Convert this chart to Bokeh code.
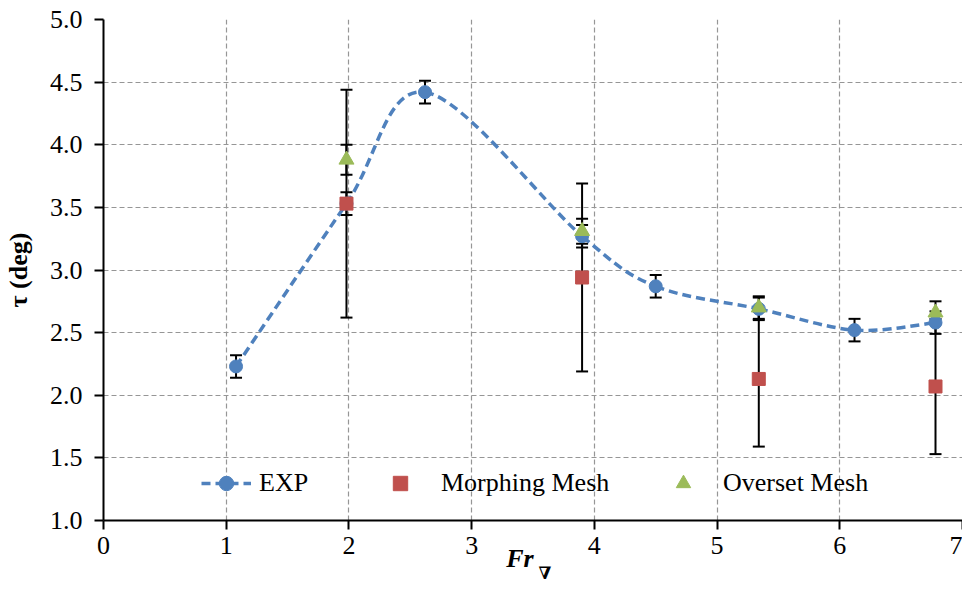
import numpy as np
from bokeh.plotting import figure
from bokeh.models import (Legend, LegendItem, Whisker, TeeHead, ColumnDataSource,
                          FixedTicker, Range1d, LinearAxis)
from bokeh.embed import file_html
from bokeh.resources import INLINE

# ---- data ----
exp_x = [1.08, 1.98, 2.62, 3.90, 4.50, 5.34, 6.12, 6.78]
exp_y = [2.23, 3.53, 4.42, 3.27, 2.87, 2.69, 2.52, 2.58]
exp_err = [0.09, 0.09, 0.09, 0.09, 0.09, 0.09, 0.09, 0.09]

morph_x = [1.98, 3.90, 5.34, 6.78]
morph_y = [3.53, 2.94, 2.13, 2.07]
morph_err = [0.91, 0.75, 0.54, 0.54]

over_x = [1.98, 3.90, 5.34, 6.78]
over_y = [3.88, 3.31, 2.70, 2.66]
over_err = [0.12, 0.10, 0.09, 0.09]

x_ticks = [0, 1, 2, 3, 4, 5, 6, 7]
x_tick_labels = ["0", "1", "2", "3", "4", "5", "6", "7"]
y_ticks = [1.0, 1.5, 2.0, 2.5, 3.0, 3.5, 4.0, 4.5, 5.0]
y_tick_labels = ["1.0", "1.5", "2.0", "2.5", "3.0", "3.5", "4.0", "4.5", "5.0"]

BLUE = "#4F81BD"
RED = "#C0504D"
GREEN = "#9BBB59"
FONT = "Liberation Serif"
NB = "\u00a0"

p = figure(width=962, height=585, x_range=Range1d(0, 7), y_range=Range1d(1, 5),
           output_backend="svg", toolbar_location=None,
           min_border_left=91, min_border_right=0, min_border_top=19, min_border_bottom=40)
p.outline_line_color = None
p.background_fill_color = "white"

# axes
for ax in (p.xaxis[0], p.yaxis[0]):
    ax.axis_line_color = "black"
    ax.axis_line_width = 2
    ax.major_tick_line_color = "black"
    ax.major_tick_line_width = 2
    ax.major_tick_out = 9
    ax.major_tick_in = 0
    ax.minor_tick_line_color = None
    ax.major_label_text_font = FONT
    ax.major_label_text_font_size = "26px"
    ax.major_label_text_color = "black"

p.xaxis.ticker = FixedTicker(ticks=x_ticks)
p.xaxis.major_label_overrides = {t: l for t, l in zip(x_ticks, x_tick_labels)}
p.yaxis.ticker = FixedTicker(ticks=y_ticks)
p.yaxis.major_label_overrides = {t: l for t, l in zip(y_ticks, y_tick_labels)}
p.xaxis.major_label_standoff = 7
p.yaxis.major_label_standoff = 12

p.yaxis.axis_label = "τ (deg)"
p.yaxis.axis_label_text_font = FONT
p.yaxis.axis_label_text_font_size = "26px"
p.yaxis.axis_label_text_font_style = "bold"
p.yaxis.axis_label_text_color = "black"
p.yaxis.axis_label_standoff = 14

# x title "Fr" on main axis, subscript nabla on a bare second axis below
p.xaxis.axis_label = "Fr" + NB * 4
p.xaxis.axis_label_text_font = FONT
p.xaxis.axis_label_text_font_size = "26px"
p.xaxis.axis_label_text_font_style = "bold italic"
p.xaxis.axis_label_text_color = "black"
p.xaxis.axis_label_standoff = -13

sub_axis = LinearAxis(ticker=FixedTicker(ticks=[]), axis_line_color=None,
                      major_tick_line_color=None, minor_tick_line_color=None,
                      major_tick_out=0, major_tick_in=0, major_label_standoff=0,
                      major_label_text_font_size="0px",
                      axis_label=NB * 4 + "∇", axis_label_text_font="DejaVu Serif",
                      axis_label_text_font_size="17px",
                      axis_label_text_font_style="bold italic",
                      axis_label_text_color="black", axis_label_standoff=-13)
p.add_layout(sub_axis, "below")

# grid
for g in (p.xgrid[0], p.ygrid[0]):
    g.grid_line_color = "#969696"
    g.grid_line_dash = "5 3"
    g.grid_line_width = 1.2
p.xgrid.ticker = FixedTicker(ticks=x_ticks)
p.ygrid.ticker = FixedTicker(ticks=y_ticks)

# smoothed EXP curve (Catmull-Rom Bezier through the data points)
ex = np.array(exp_x, dtype=float)
ey = np.array(exp_y, dtype=float)
pxs = np.concatenate([[ex[0]], ex, [ex[-1]]])
pys = np.concatenate([[ey[0]], ey, [ey[-1]]])
n = len(ex)
bx0, by0, bx1, by1, c0x, c0y, c1x, c1y = [], [], [], [], [], [], [], []
for i in range(n - 1):
    P0x, P1x, P2x, P3x = pxs[i], pxs[i + 1], pxs[i + 2], pxs[i + 3]
    P0y, P1y, P2y, P3y = pys[i], pys[i + 1], pys[i + 2], pys[i + 3]
    bx0.append(P1x); by0.append(P1y); bx1.append(P2x); by1.append(P2y)
    c0x.append(P1x + (P2x - P0x) / 6); c0y.append(P1y + (P2y - P0y) / 6)
    c1x.append(P2x - (P3x - P1x) / 6); c1y.append(P2y - (P3y - P1y) / 6)
p.bezier(x0=bx0, y0=by0, x1=bx1, y1=by1, cx0=c0x, cy0=c0y, cx1=c1x, cy1=c1y,
         line_color=BLUE, line_width=3.5, line_dash="9 5")


def add_whisker(xs, ys, errs):
    src = ColumnDataSource(dict(x=xs,
                                lo=[y - e for y, e in zip(ys, errs)],
                                hi=[y + e for y, e in zip(ys, errs)]))
    w = Whisker(source=src, base="x", lower="lo", upper="hi", dimension="height",
                line_color="black", line_width=2,
                upper_head=TeeHead(size=12, line_color="black", line_width=2),
                lower_head=TeeHead(size=12, line_color="black", line_width=2))
    p.add_layout(w)


add_whisker(exp_x, exp_y, exp_err)
exp_r = p.scatter(exp_x, exp_y, marker="circle", size=13, fill_color=BLUE, line_color=BLUE)
add_whisker(morph_x, morph_y, morph_err)
morph_r = p.scatter(morph_x, morph_y, marker="square", size=13, fill_color=RED, line_color=RED)
add_whisker(over_x, over_y, over_err)
over_r = p.scatter(over_x, over_y, marker="triangle", size=15, fill_color=GREEN, line_color=GREEN)

# hidden line renderer used only for the legend swatch of EXP
leg_line = p.line(exp_x, exp_y, line_color=BLUE, line_width=3.5, line_dash="9 5", visible=False)


def make_legend(label, renderers, loc, gw, standoff):
    lg = Legend(items=[LegendItem(label=label, renderers=renderers)], location=loc,
                orientation="horizontal", glyph_width=gw, glyph_height=36,
                label_standoff=standoff, padding=0, margin=0, label_height=36,
                border_line_color=None, background_fill_alpha=0,
                inactive_fill_alpha=0,
                label_text_font=FONT, label_text_font_size="26px", label_text_color="black")
    p.add_layout(lg)


make_legend("EXP", [leg_line, exp_r], (98, 19), 50, 8)
make_legend("Morphing Mesh", [morph_r], (279, 19), 36, 23)
make_legend("Overset Mesh", [over_r], (562, 19), 36, 22)

open("out.html", "w").write(file_html(p, INLINE))
